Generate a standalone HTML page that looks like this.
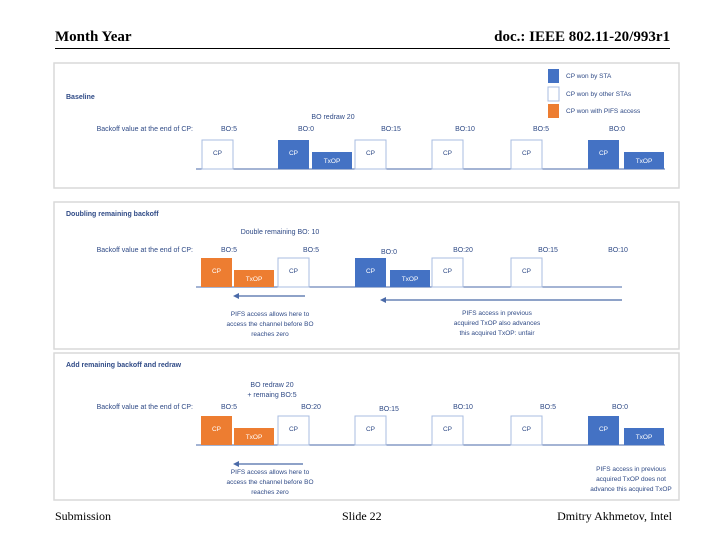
<!DOCTYPE html>
<html><head><meta charset="utf-8"><style>
body{margin:0;width:720px;height:540px;background:#fff;overflow:hidden;position:relative;font-family:"Liberation Serif",serif}
.t{position:absolute;white-space:nowrap}
svg text{font-family:"Liberation Sans",sans-serif}
</style></head><body>
<div class="t" style="left:55px;top:29px;font-size:15px;font-weight:bold">Month Year</div>
<div class="t" style="right:50px;top:29px;font-size:15px;font-weight:bold">doc.: IEEE 802.11-20/993r1</div>
<div style="position:absolute;left:55px;top:48px;width:615px;height:1px;background:#000"></div>
<div class="t" style="left:55px;top:509px;font-size:12px">Submission</div>
<div class="t" style="left:342px;top:509px;font-size:12px">Slide 22</div>
<div class="t" style="right:48px;top:509px;font-size:12px">Dmitry Akhmetov, Intel</div>
<svg id="d" width="720" height="540" style="position:absolute;left:0;top:0" xmlns="http://www.w3.org/2000/svg"></svg>
<script>
const BLUE='#4472c4',ORANGE='#ed7d31',TXT='#2f4a86';
const panelTops=[63,202,353];
const panelHeights=[125,147,147];
const panelTitles=['Baseline','Doubling remaining backoff','Add remaining backoff and redraw'];
const boLabels=[['BO:5','BO:0','BO:15','BO:10','BO:5','BO:0'],['BO:5','BO:5','BO:0','BO:20','BO:15','BO:10'],['BO:5','BO:20','BO:15','BO:10','BO:5','BO:0']];
const boX=[[229,306,391,465,541,617],[229,311,389,463,548,618],[229,311,389,463,548,620]];
// box kinds: b=STA CP, w=other CP, o=PIFS CP, tb/to = TxOP
const boxes1=[['w',202],['b',278],['tb',312],['w',355],['w',432],['w',511],['b',588],['tb',624]];
const boxes2=[['o',201],['to',234],['w',278],['b',355],['tb',390],['w',432],['w',511]];
const boxes3=[['o',201],['to',234],['w',278],['w',355],['w',432],['w',511],['b',588],['tb',624]];
const allBoxes=[boxes1,boxes2,boxes3];
const lineY=[169,287,445],lineEnd=[665,622,665];
const svg=document.getElementById('d');
function el(tag,attrs,txt){const e=document.createElementNS('http://www.w3.org/2000/svg',tag);for(const k in attrs)e.setAttribute(k,attrs[k]);if(txt!==undefined)e.textContent=txt;svg.appendChild(e);return e;}
function tx(x,y,s,anchor,size,name,bold){const e=el('text',{x:x,y:y,'font-size':size||7,fill:TXT,'text-anchor':anchor||'start','font-weight':bold?'bold':'normal'},s);

return e;}
panelTops.forEach((top,p)=>{
  const r=el('rect',{x:54,y:top,width:625,height:panelHeights[p],fill:'#fff',stroke:'#d9d9d9','stroke-width':1.5});
  
  
  tx(66,top+(p==0?36:14),panelTitles[p],'start',7,'panel-title-'+(p+1),true);
  const rowY=[131,252,409][p];
  tx(193,rowY,'Backoff value at the end of CP:','end',7,'backoff-row-label-'+(p+1));
  boLabels[p].forEach((s,i)=>tx(boX[p][i],rowY+(p==2&&i==2?2:0)+(p==1&&i==2?2:0),s,'middle',7,'bo-label'));
  const ly=lineY[p];
  const ln=el('line',{x1:196,y1:ly,x2:lineEnd[p],y2:ly,stroke:'#4a6aa8','stroke-width':1});
  
  
  allBoxes[p].forEach(([k,x])=>{
    const tall=k.length==1;const w=tall?31:40;const h=tall?29:17;
    const fill=k=='w'?'#fff':(k=='o'||k=='to')?ORANGE:BLUE;
    const b=el('rect',{x:x,y:ly-h,width:w,height:h,fill:fill,stroke:k=='w'?'#a9bce0':'none','stroke-width':1});
    
    
    tx(x+w/2,ly-h+(tall?15:11),tall?'CP':'TxOP','middle',6.5,tall?'cp-label':'txop-label').setAttribute('fill',k=='w'?TXT:'#fff');
  });
});
// legend
[[BLUE,69,'CP won by STA'],['#fff',87,'CP won by other STAs'],[ORANGE,104,'CP won with PIFS access']].forEach(([c,y,s])=>{
  const r=el('rect',{x:548,y:y,width:11,height:14,fill:c,stroke:c=='#fff'?'#a9bce0':'none'});
  
  
  tx(566,y+9,s,'start',6.5,'legend-entry');
});
tx(333,119,'BO redraw 20','middle',7,'annotation-bo-redraw');
tx(280,234,'Double remaining BO: 10','middle',7,'annotation-double-bo');
tx(272,387,'BO redraw 20','middle',7,'annotation-bo-redraw-2');
tx(272,397,'+ remaing BO:5','middle',7,'annotation-remaining-bo');
function arrow(x1,x2,y,name){const l=el('line',{x1:x1,y1:y,x2:x2+4,y2:y,stroke:'#4a6aa8','stroke-width':1.2});


const h=el('path',{d:`M${x2},${y} l6,-3 l0,6 z`,fill:'#4a6aa8'});

}
arrow(305,233,296,'arrow-pifs-early');
arrow(622,380,300,'arrow-pifs-unfair');
arrow(303,233,464,'arrow-pifs-early-2');
[['PIFS access allows here to','access the channel before BO','reaches zero']].forEach(a=>{
  a.forEach((s,i)=>{tx(270,316+i*10,s,'middle',6.5,'note-pifs-early');tx(270,474+i*10,s,'middle',6.5,'note-pifs-early-2');});
});
['PIFS access in previous','acquired TxOP also advances','this acquired TxOP: unfair'].forEach((s,i)=>tx(497,315+i*10,s,'middle',6.5,'note-pifs-unfair'));
['PIFS access in previous','acquired TxOP does not','advance this acquired TxOP'].forEach((s,i)=>tx(631,471+i*10,s,'middle',6.5,'note-pifs-fair'));
</script>
</body></html>
